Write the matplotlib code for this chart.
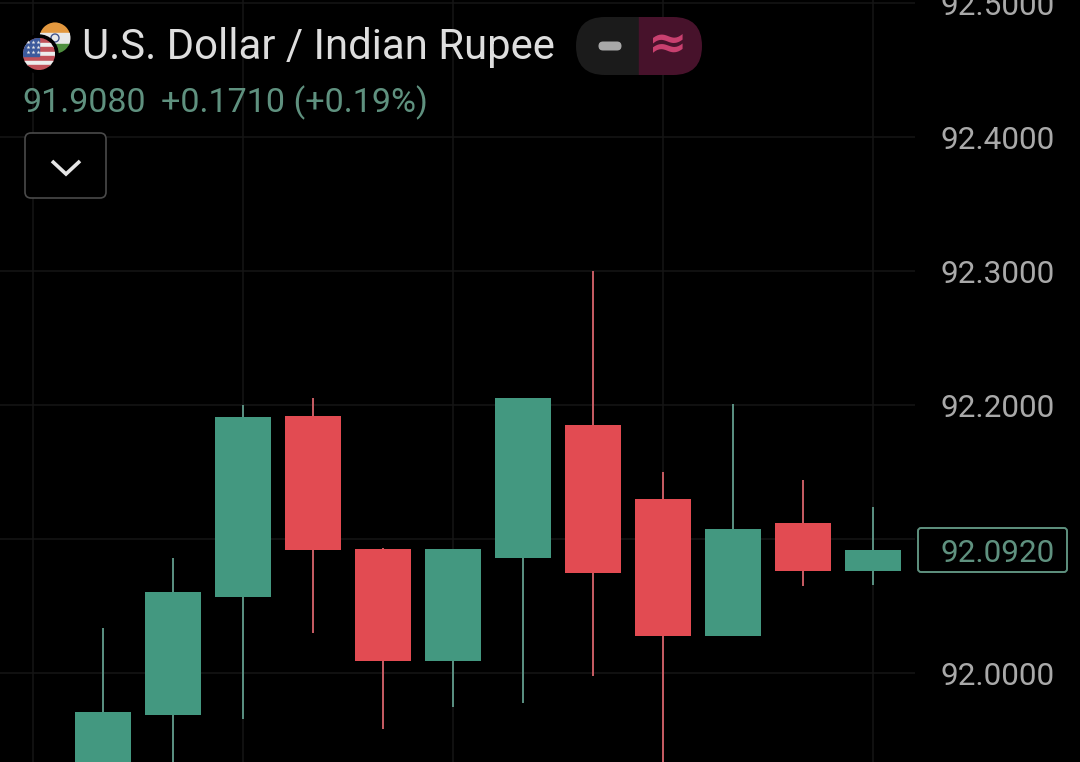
import matplotlib
matplotlib.use("Agg")
import matplotlib.pyplot as plt
from matplotlib.patches import Circle, FancyBboxPatch, Rectangle

plt.rcParams['font.family'] = ['Roboto', 'DejaVu Sans']

# candles (lows under the bottom edge are guesses)
opens = [91.900, 91.9687, 92.0567, 92.1918, 92.0925, 92.0090, 92.0858, 92.1851, 92.1299, 92.0276, 92.1119, 92.0761]
closes = [91.9709, 92.0604, 92.1910, 92.0918, 92.0090, 92.0925, 92.2052, 92.0746, 92.0276, 92.1075, 92.0761, 92.0918]
highs = [92.0336, 92.0858, 92.2000, 92.2052, 92.0933, 92.0925, 92.2052, 92.3000, 92.1500, 92.2007, 92.1440, 92.1239]
lows = [91.880, 91.900, 91.9657, 92.0299, 91.9582, 91.9746, 91.9776, 91.9978, 91.900, 92.0276, 92.0649, 92.0657]

price_ticks = [92.0, 92.1, 92.2, 92.3, 92.4, 92.5]
price_labels = ["92.0000", None, "92.2000", "92.3000", "92.4000", "92.5000"]
time_grid = [-1, 2, 5, 8, 11]

title = "U.S. Dollar / Indian Rupee"
quote = "91.9080"
change = "+0.1710 (+0.19%)"
last_price = "92.0920"

GREEN = "#439880"
RED = "#e24b52"
GREEN_WICK = "#5b9183"
RED_WICK = "#c95d64"
GREEN_TEXT = "#5f917f"
GRID = "#161616"
TICK = "#a9a9a9"

fig = plt.figure(figsize=(10.8, 7.62), dpi=100, facecolor="black")

# chart axes fill the whole picture, one candle step = 70px, 0.1 = 134px
ax = fig.add_axes([0, 0, 1, 1])
ax.set_facecolor("black")
ax.set_xlim(-103 / 70, (1080 - 103) / 70)
ax.set_ylim(92 + (673 - 762) / 1340, 92 + 673 / 1340)
ax.axis("off")

grid_right = (915 - 103) / 70
ax.hlines(price_ticks, ax.get_xlim()[0], grid_right, color=GRID, lw=1.1, zorder=1)
ax.vlines(time_grid, ax.get_ylim()[0], ax.get_ylim()[1], color=GRID, lw=1.1, zorder=1)

for i in range(len(opens)):
    up = closes[i] >= opens[i]
    ax.vlines(i, lows[i], highs[i], color=GREEN_WICK if up else RED_WICK, lw=1.4, zorder=2)
    ax.bar(i, abs(closes[i] - opens[i]), bottom=min(opens[i], closes[i]), width=0.8,
           color=GREEN if up else RED, zorder=3)

label_x = (1054.5 - 103) / 70
for p, lab in zip(price_ticks, price_labels):
    if lab is not None:
        ax.text(label_x, p - 3 / 1340, lab, color=TICK, fontsize=22.7, ha="right", va="center", zorder=4)

# header and buttons, in pixel coordinates on top of the chart
ui = fig.add_axes([0, 0, 1, 1])
ui.set_xlim(0, 1080)
ui.set_ylim(762, 0)
ui.axis("off")
ui.patch.set_alpha(0)

# India flag
india = Circle((55, 38), 15.5, transform=ui.transData)
for y0, c in zip([22, 33, 44], ["#e3983f", "#e8e8e8", "#4f8f3f"]):
    r = Rectangle((38, y0), 36, 11, color=c, zorder=5)
    ui.add_patch(r)
    r.set_clip_path(india)
ui.add_patch(Circle((55, 38), 4, fill=False, ec="#44558a", lw=1, zorder=6))

# US flag with a black ring
ui.add_patch(Circle((39, 54), 19, color="black", zorder=7))
usa = Circle((39, 54), 16, transform=ui.transData)
for k in range(7):
    r = Rectangle((22, 38 + k * 32 / 7), 34, 32 / 7, color="#c2525a" if k % 2 == 0 else "#ededed", zorder=8)
    ui.add_patch(r)
    r.set_clip_path(usa)
r = Rectangle((22, 38), 17, 18, color="#3c5a9c", zorder=9)
ui.add_patch(r)
r.set_clip_path(usa)
for sx in [28, 33, 38]:
    for sy in [42, 47, 52]:
        ui.plot(sx, sy, marker="*", ms=3, color="#e8e8e8", mew=0, zorder=10)

ui.text(82, 48, title, color="#dedede", fontsize=30.2, ha="left", va="center", zorder=5)
ui.text(22, 103, quote, color=GREEN_TEXT, fontsize=24.5, ha="left", va="center", zorder=5)
ui.text(161, 103, change, color=GREEN_TEXT, fontsize=24.6, ha="left", va="center", zorder=5)

# dash / approx pill
pill = FancyBboxPatch((605, 46 - 0.01), 68, 0.02, boxstyle="round,pad=29,rounding_size=29", fc="none", ec="none",
                      transform=ui.transData, zorder=4)
ui.add_patch(pill)
left = Rectangle((570, 10), 69, 70, color="#1b1b1b", zorder=5)
right = Rectangle((639, 10), 70, 70, color="#47122b", zorder=5)
ui.add_patch(left)
ui.add_patch(right)
left.set_clip_path(pill)
right.set_clip_path(pill)
ui.add_patch(FancyBboxPatch((602, 45), 16, 2, boxstyle="round,pad=3.5,rounding_size=4.5",
                            fc="#a8a8a8", ec="none", zorder=6))
ui.text(668, 45, "≈", color="#c8406f", fontsize=34, ha="center", va="center", zorder=6,
        family=['DejaVu Sans'], fontweight="bold")

# dropdown button
ui.add_patch(FancyBboxPatch((29, 137), 73, 57, boxstyle="round,pad=4,rounding_size=6",
                            fc="black", ec="#4a4a4a", lw=1.2, zorder=5))
ui.plot([52, 66, 80], [161, 174, 161], color="#e6e6e6", lw=2.6, solid_capstyle="butt",
        solid_joinstyle="miter", zorder=6)

# last price tag
ui.add_patch(FancyBboxPatch((921, 531), 143, 38, boxstyle="round,pad=3,rounding_size=3",
                            fc="black", ec="#5f917f", lw=1.4, zorder=5))
ui.text(1055, 553.5, last_price, color=GREEN_TEXT, fontsize=22.7, ha="right", va="center", zorder=6)

fig.savefig("out.png", dpi=100, facecolor="black")
